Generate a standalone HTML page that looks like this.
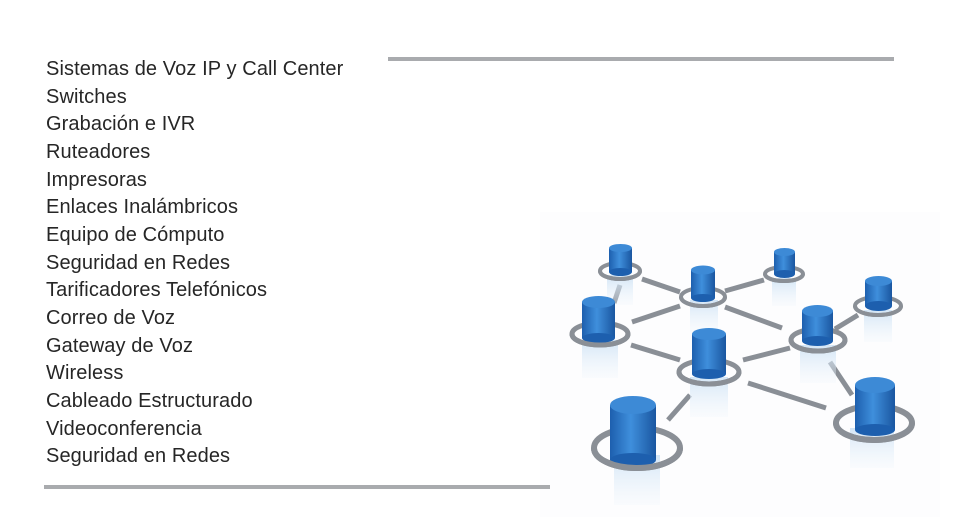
<!DOCTYPE html>
<html><head><meta charset="utf-8"><style>
body{margin:0;width:958px;height:527px;background:#fff;position:relative;overflow:hidden;font-family:"Liberation Sans",sans-serif}
.list{position:absolute;left:46px;top:56px;font-size:20px;line-height:27.65px;color:#262626;letter-spacing:0.1px}
.rule{position:absolute;height:4px;background:#a9abae;z-index:2}
</style></head><body>
<div class="rule" style="left:388px;top:57px;width:506px"></div>
<div class="rule" style="left:44px;top:485px;width:506px"></div>
<div class="list">
Sistemas de Voz IP y Call Center<br>Switches<br>Grabación e IVR<br>Ruteadores<br>Impresoras<br>Enlaces Inalámbricos<br>Equipo de Cómputo<br>Seguridad en Redes<br>Tarificadores Telefónicos<br>Correo de Voz<br>Gateway de Voz<br>Wireless<br>Cableado Estructurado<br>Videoconferencia<br>Seguridad en Redes
</div>
<svg style="position:absolute;left:540px;top:212px" width="400" height="305" viewBox="540 212 400 305">
<defs>
<linearGradient id="b" x1="0" x2="1"><stop offset="0" stop-color="#1d5fae"/><stop offset=".45" stop-color="#3f8fdc"/><stop offset="1" stop-color="#1a56a0"/></linearGradient>
<linearGradient id="r" x1="0" x2="0" y1="0" y2="1"><stop offset="0" stop-color="#cfe3f5" stop-opacity=".9"/><stop offset="1" stop-color="#eaf3fb" stop-opacity=".2"/></linearGradient>
</defs>
<rect x="540" y="212" width="400" height="305" fill="#fdfdfe"/>
<g stroke="#8a8f96" stroke-width="5">
<line x1="642" y1="279" x2="680" y2="292"/>
<line x1="620" y1="285" x2="614" y2="303"/>
<line x1="725" y1="291" x2="764" y2="280"/>
<line x1="632" y1="322" x2="680" y2="306"/>
<line x1="725" y1="307" x2="782" y2="328"/>
<line x1="631" y1="345" x2="680" y2="360"/>
<line x1="743" y1="360" x2="790" y2="348"/>
<line x1="835" y1="329" x2="858" y2="315"/>
<line x1="830" y1="362" x2="852" y2="395"/>
<line x1="748" y1="383" x2="826" y2="408"/>
<line x1="690" y1="395" x2="668" y2="420"/>
</g>
<g>
<rect x="607" y="275" width="26" height="30" fill="url(#r)"/>
<ellipse cx="620" cy="271" rx="20" ry="8" fill="none" stroke="#8a8f96" stroke-width="4"/>
<rect x="609" y="248" width="23" height="24" fill="url(#b)"/><ellipse cx="620.5" cy="272" rx="11.5" ry="4" fill="#1d5fae"/><ellipse cx="620.5" cy="248" rx="11.5" ry="4" fill="#3d8ad6"/>
<path d="M600 271 A20 8 0 0 0 640 271" fill="none" stroke="#8a8f96" stroke-width="4"/>
<rect x="772" y="278" width="24" height="28" fill="url(#r)"/>
<ellipse cx="784" cy="274" rx="19" ry="7" fill="none" stroke="#8a8f96" stroke-width="4"/>
<rect x="774" y="252" width="21" height="22" fill="url(#b)"/><ellipse cx="784.5" cy="274" rx="10.5" ry="4" fill="#1d5fae"/><ellipse cx="784.5" cy="252" rx="10.5" ry="4" fill="#3d8ad6"/>
<path d="M765 274 A19 7 0 0 0 803 274" fill="none" stroke="#8a8f96" stroke-width="4"/>
<rect x="690" y="300" width="28" height="32" fill="url(#r)"/>
<ellipse cx="703" cy="297" rx="22" ry="9" fill="none" stroke="#8a8f96" stroke-width="4"/>
<rect x="691" y="270" width="24" height="28" fill="url(#b)"/><ellipse cx="703" cy="298" rx="12" ry="4" fill="#1d5fae"/><ellipse cx="703" cy="270" rx="12" ry="4.5" fill="#3d8ad6"/>
<path d="M681 297 A22 9 0 0 0 725 297" fill="none" stroke="#8a8f96" stroke-width="4"/>
<rect x="864" y="310" width="28" height="32" fill="url(#r)"/>
<ellipse cx="878" cy="306" rx="23" ry="9" fill="none" stroke="#8a8f96" stroke-width="4"/>
<rect x="865" y="281" width="27" height="25" fill="url(#b)"/><ellipse cx="878.5" cy="306" rx="13.5" ry="5" fill="#1d5fae"/><ellipse cx="878.5" cy="281" rx="13.5" ry="5" fill="#3d8ad6"/>
<path d="M855 306 A23 9 0 0 0 901 306" fill="none" stroke="#8a8f96" stroke-width="4"/>
<rect x="582" y="340" width="36" height="38" fill="url(#r)"/>
<ellipse cx="600" cy="334" rx="28" ry="11" fill="none" stroke="#8a8f96" stroke-width="5"/>
<rect x="582" y="302" width="33" height="36" fill="url(#b)"/><ellipse cx="598.5" cy="338" rx="16.5" ry="5" fill="#1d5fae"/><ellipse cx="598.5" cy="302" rx="16.5" ry="6" fill="#3d8ad6"/>
<path d="M572 334 A28 11 0 0 0 628 334" fill="none" stroke="#8a8f96" stroke-width="5"/>
<rect x="800" y="345" width="36" height="38" fill="url(#r)"/>
<ellipse cx="818" cy="340" rx="27" ry="11" fill="none" stroke="#8a8f96" stroke-width="5"/>
<rect x="802" y="311" width="31" height="30" fill="url(#b)"/><ellipse cx="817.5" cy="341" rx="15.5" ry="5" fill="#1d5fae"/><ellipse cx="817.5" cy="311" rx="15.5" ry="6" fill="#3d8ad6"/>
<path d="M791 340 A27 11 0 0 0 845 340" fill="none" stroke="#8a8f96" stroke-width="5"/>
<rect x="690" y="377" width="38" height="40" fill="url(#r)"/>
<ellipse cx="709" cy="372" rx="30" ry="12" fill="none" stroke="#8a8f96" stroke-width="5"/>
<rect x="692" y="334" width="34" height="40" fill="url(#b)"/><ellipse cx="709" cy="374" rx="17" ry="5" fill="#1d5fae"/><ellipse cx="709" cy="334" rx="17" ry="6" fill="#3d8ad6"/>
<path d="M679 372 A30 12 0 0 0 739 372" fill="none" stroke="#8a8f96" stroke-width="5"/>
<rect x="850" y="428" width="44" height="40" fill="url(#r)"/>
<ellipse cx="874" cy="423" rx="38" ry="17" fill="none" stroke="#8a8f96" stroke-width="6"/>
<rect x="855" y="385" width="40" height="45" fill="url(#b)"/><ellipse cx="875" cy="430" rx="20" ry="6" fill="#1d5fae"/><ellipse cx="875" cy="385" rx="20" ry="8" fill="#3d8ad6"/>
<path d="M836 423 A38 17 0 0 0 912 423" fill="none" stroke="#8a8f96" stroke-width="6"/>
<rect x="614" y="455" width="46" height="50" fill="url(#r)"/>
<ellipse cx="637" cy="448" rx="43" ry="20" fill="none" stroke="#8a8f96" stroke-width="6"/>
<rect x="610" y="405" width="46" height="55" fill="url(#b)"/><ellipse cx="633" cy="460" rx="23" ry="7" fill="#1d5fae"/><ellipse cx="633" cy="405" rx="23" ry="9" fill="#3d8ad6"/>
<path d="M594 448 A43 20 0 0 0 680 448" fill="none" stroke="#8a8f96" stroke-width="6"/>
</g>
</svg>
</body></html>
